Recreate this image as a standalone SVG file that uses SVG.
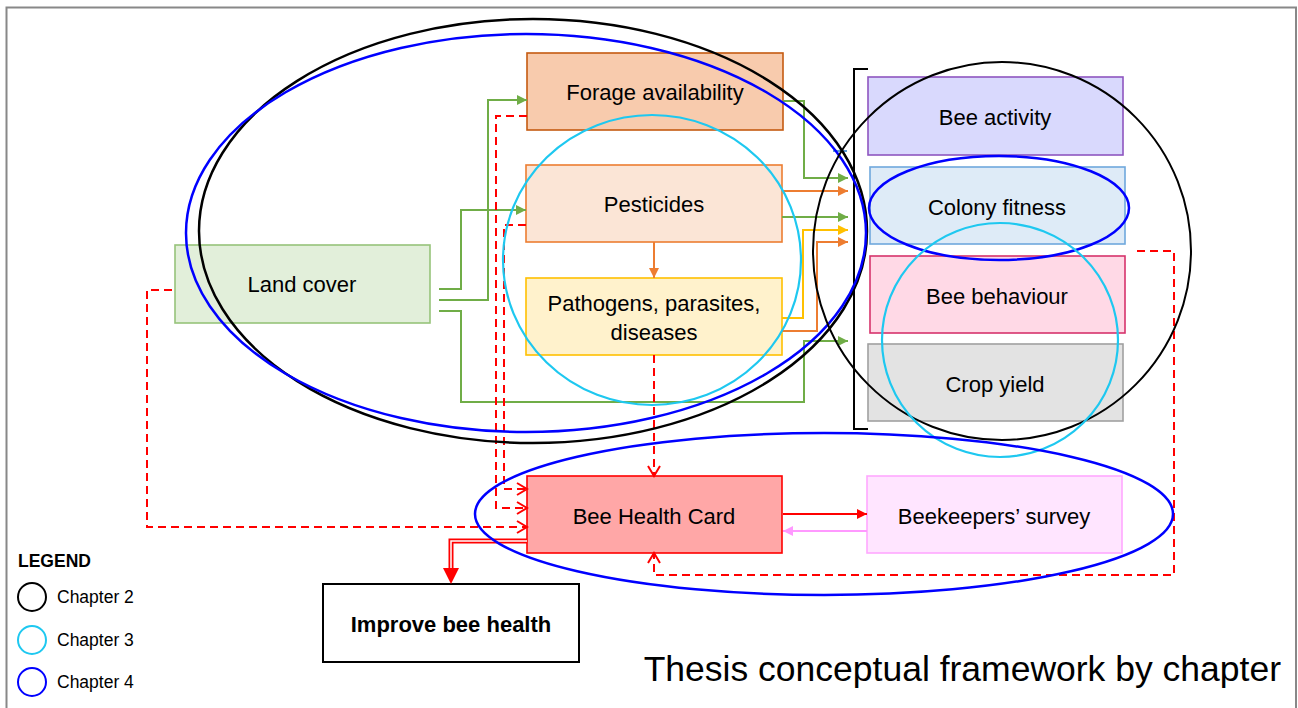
<svg xmlns="http://www.w3.org/2000/svg" width="1298" height="708" viewBox="0 0 1298 708">
<defs>
<style>
.t{font-family:"Liberation Sans",Arial,sans-serif;font-size:22px;fill:#000;text-anchor:middle}
.c{fill:none;stroke-width:2}
.d{fill:none;stroke:#ff0000;stroke-width:2;stroke-dasharray:8 5}
.e{fill:none}
.l{font-family:"Liberation Sans",Arial,sans-serif;font-size:17.5px;fill:#000}
</style>
<marker id="ag" markerUnits="userSpaceOnUse" markerWidth="12" markerHeight="12" refX="10" refY="5" orient="auto"><path d="M0,0 L10,5 L0,10 Z" fill="#70ad47"/></marker>
<marker id="ao" markerUnits="userSpaceOnUse" markerWidth="12" markerHeight="12" refX="10" refY="5" orient="auto"><path d="M0,0 L10,5 L0,10 Z" fill="#ed7d31"/></marker>
<marker id="ay" markerUnits="userSpaceOnUse" markerWidth="12" markerHeight="12" refX="10" refY="5" orient="auto"><path d="M0,0 L10,5 L0,10 Z" fill="#ffc000"/></marker>
<marker id="ar" markerUnits="userSpaceOnUse" markerWidth="12" markerHeight="12" refX="10" refY="5" orient="auto"><path d="M0,0 L10,5 L0,10 Z" fill="#ff0000"/></marker>
<marker id="ap" markerUnits="userSpaceOnUse" markerWidth="12" markerHeight="12" refX="10" refY="5" orient="auto"><path d="M0,0 L10,5 L0,10 Z" fill="#ff99ff"/></marker>
<marker id="av" markerUnits="userSpaceOnUse" markerWidth="14" markerHeight="16" refX="11" refY="7" orient="auto"><path d="M1,1 L11,7 L1,13" fill="none" stroke="#ff0000" stroke-width="2"/></marker>
</defs>
<rect width="1298" height="708" fill="#fff"/>
<path d="M6.5,712 V7.5 H1296 V712" fill="none" stroke="#888" stroke-width="2"/>

<g id="land-cover"><rect x="175" y="245" width="255" height="78" fill="#e2efda" stroke="#97c37a" stroke-width="1.6"/><text class="t" x="302" y="292">Land cover</text></g>
<g id="forage"><rect x="527" y="53" width="256" height="77" fill="#f8cbad" stroke="#c55a11" stroke-width="1.6"/><text class="t" x="655" y="100">Forage availability</text></g>
<g id="pesticides"><rect x="526" y="165" width="256" height="77" fill="#fbe5d6" stroke="#ed7d31" stroke-width="1.6"/><text class="t" x="654" y="212">Pesticides</text></g>
<g id="pathogens"><rect x="526" y="278" width="256" height="77" fill="#fff2cc" stroke="#ffc000" stroke-width="1.6"/><text class="t" x="654" y="311">Pathogens, parasites,</text><text class="t" x="654" y="340">diseases</text></g>
<g id="bee-activity"><rect x="868" y="77" width="255" height="78" fill="#d9d9fd" stroke="#8e55c0" stroke-width="1.6"/><text class="t" x="995" y="125">Bee activity</text></g>
<g id="colony-fitness"><rect x="870" y="167" width="255" height="77" fill="#deebf7" stroke="#6fa8dc" stroke-width="1.6"/><text class="t" x="997" y="215">Colony fitness</text></g>
<g id="bee-behaviour"><rect x="870" y="256" width="255" height="77" fill="#ffd9e6" stroke="#d6336c" stroke-width="1.6"/><text class="t" x="997" y="304">Bee behaviour</text></g>
<g id="crop-yield"><rect x="868" y="344" width="255" height="77" fill="#e3e3e3" stroke="#a0a0a0" stroke-width="1.6"/><text class="t" x="995" y="392">Crop yield</text></g>
<g id="bracket"><path d="M868,69 H854 V429 H868" fill="none" stroke="#000" stroke-width="2"/></g>
<g id="bee-health-card"><rect x="527" y="476" width="255" height="77" fill="#ffa7a7" stroke="#ff0000" stroke-width="1.6"/><text class="t" x="654" y="524">Bee Health Card</text></g>
<g id="beekeepers-survey"><rect x="867" y="476" width="255" height="77" fill="#ffe5ff" stroke="#ffa8ff" stroke-width="1.6"/><text class="t" x="994" y="524">Beekeepers’ survey</text></g>
<g id="improve-bee-health"><rect x="323" y="584" width="256" height="78" fill="#fff" stroke="#000" stroke-width="2"/><text class="t" x="451" y="632" font-weight="bold">Improve bee health</text></g>

<g id="connectors">
<path class="c" stroke="#70ad47" d="M439,289 H461 V210 H526" marker-end="url(#ag)"/>
<path class="c" stroke="#70ad47" d="M439,300 H488 V100 H527" marker-end="url(#ag)"/>
<path class="c" stroke="#70ad47" d="M439,311 H461 V402 H804 V341 H848" marker-end="url(#ag)"/>
<path class="c" stroke="#70ad47" d="M783,101 H804 V178 H848" marker-end="url(#ag)"/>
<path class="c" stroke="#70ad47" d="M782,217 H848" marker-end="url(#ag)"/>
<path class="c" stroke="#ed7d31" d="M782,191 H848" marker-end="url(#ao)"/>
<path class="c" stroke="#ed7d31" d="M782,331 H817 V242 H848" marker-end="url(#ao)"/>
<path class="c" stroke="#ed7d31" d="M654,242 V278" marker-end="url(#ao)"/>
<path class="c" stroke="#ffc000" d="M782,318 H803 V230 H848" marker-end="url(#ay)"/>
<path class="c" stroke="#5b9bd5" d="M833,151 H847"/>
<path class="d" d="M172,290 H147 V527 H527" marker-end="url(#av)"/>
<path class="d" d="M527,116 H496 V508 H527" marker-end="url(#av)"/>
<path class="d" d="M526,225 H504 V489 H527" marker-end="url(#av)"/>
<path class="d" d="M654,355 V476" marker-end="url(#av)"/>
<path class="d" d="M1137,251 H1174 V575 H654 V553" marker-end="url(#av)"/>
<path class="c" stroke="#ff0000" d="M783,514 H867" marker-end="url(#ar)"/>
<path class="c" stroke="#ff99ff" d="M867,531 H783" marker-end="url(#ap)"/>
<path fill="none" stroke="#ff0000" stroke-width="5" d="M527,541 H451 V570"/>
<path fill="none" stroke="#fff" stroke-width="1.5" d="M527,541 H451 V570"/>
<path d="M443,568 L459,568 L451,584 Z" fill="#ff0000"/>
</g>

<g id="chapter-ellipses">
<ellipse class="e" cx="533" cy="231" rx="334" ry="212" stroke="#000" stroke-width="2.5"/>
<ellipse class="e" cx="526" cy="233" rx="340" ry="199" stroke="#0000ff" stroke-width="2.5"/>
<ellipse class="e" cx="652" cy="260" rx="149" ry="145" stroke="#1ec8f0" stroke-width="2.2"/>
<ellipse class="e" cx="1002" cy="251" rx="189" ry="189" stroke="#000" stroke-width="2"/>
<ellipse class="e" cx="999" cy="208" rx="130" ry="52" stroke="#0000ff" stroke-width="2.5"/>
<ellipse class="e" cx="1000" cy="340" rx="118" ry="117" stroke="#1ec8f0" stroke-width="2.2"/>
<ellipse class="e" cx="824" cy="514" rx="349" ry="81" stroke="#0000ff" stroke-width="2.5"/>
</g>

<g id="legend">
<text class="l" x="18" y="567" font-weight="bold">LEGEND</text>
<ellipse cx="32" cy="597" rx="14" ry="14" fill="none" stroke="#000" stroke-width="2"/>
<ellipse cx="32" cy="640" rx="14" ry="14" fill="none" stroke="#1ec8f0" stroke-width="2"/>
<ellipse cx="32" cy="682" rx="14" ry="14" fill="none" stroke="#0000ff" stroke-width="2"/>
<text class="l" x="57" y="603">Chapter 2</text>
<text class="l" x="57" y="646">Chapter 3</text>
<text class="l" x="57" y="688">Chapter 4</text>
</g>
<text x="1281" y="681" font-family="Liberation Sans,Arial,sans-serif" font-size="35.5" text-anchor="end">Thesis conceptual framework by chapter</text>
</svg>
